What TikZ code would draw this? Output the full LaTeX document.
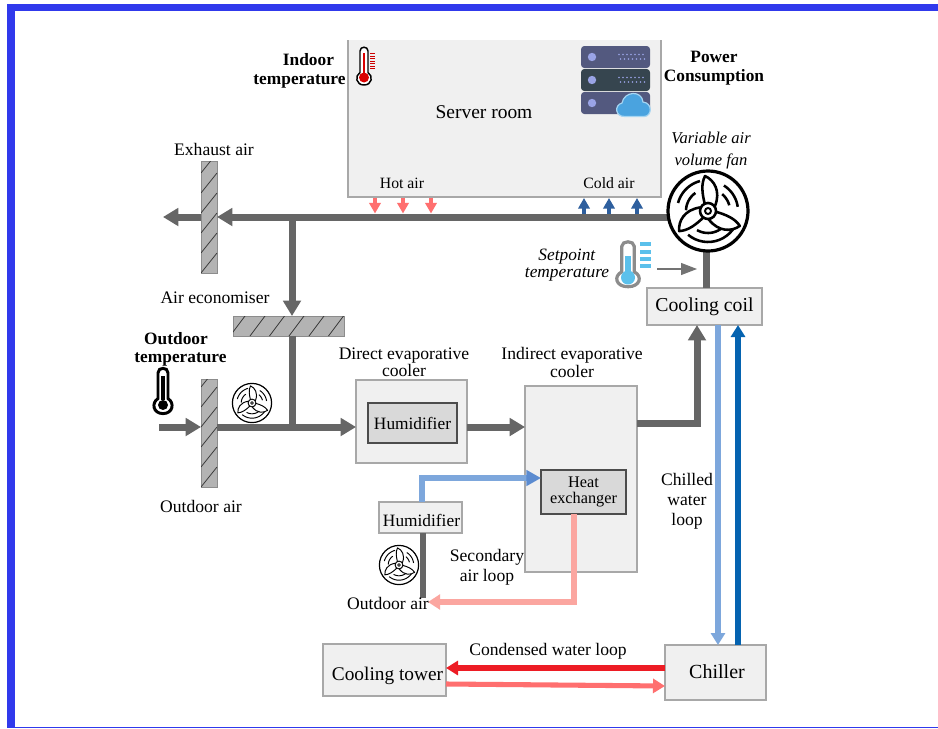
\documentclass[tikz,border=0pt]{standalone}
\usepackage{fontspec}
\setmainfont{Liberation Serif}
\usetikzlibrary{arrows.meta}
\definecolor{duct}{HTML}{666666}
\definecolor{boxfill}{HTML}{F0F0F0}
\definecolor{boxline}{HTML}{A8A8A8}
\definecolor{innerfill}{HTML}{D9D9D9}
\definecolor{damper}{HTML}{B3B3B3}
\definecolor{frameblue}{HTML}{3039EC}
\definecolor{lightwater}{HTML}{7DA7DC}
\definecolor{bluehead}{HTML}{5B8BD0}
\definecolor{darkwater}{HTML}{0563B0}
\definecolor{pinkair}{HTML}{FBA6A0}
\definecolor{redwater}{HTML}{ED1C24}
\definecolor{salmon}{HTML}{FF6F6F}
\definecolor{coldair}{HTML}{2E5F9E}
\definecolor{srvA}{HTML}{53597F}
\definecolor{srvB}{HTML}{36454F}
\definecolor{srvDot}{HTML}{9AA4E6}
\definecolor{cloud}{HTML}{4AA3DF}
\definecolor{cloudedge}{HTML}{A5D5F2}
\definecolor{sky}{HTML}{5BC0EB}
\tikzset{
 px/.style={x=0.75pt,y=-0.75pt},
 pipe/.style={draw=duct,line width=5.25pt},
 pipearrow/.style={pipe,-{Triangle[length=11.5pt,width=13pt]}},
 waterarrow/.style={line width=3.8pt,-{Triangle[length=9pt,width=10.5pt]}},
 smallarrow/.style={line width=2.6pt,-{Triangle[length=8pt,width=8.5pt]}},
 outerbox/.style={draw=boxline,fill=boxfill,line width=1pt,inner sep=0pt,outer sep=0pt},
 innerbox/.style={draw=black!70,fill=innerfill,line width=0.8pt,inner sep=0pt,outer sep=0pt},
 damperbox/.style={draw=black!45,fill=damper,line width=0.6pt,inner sep=0pt,outer sep=0pt},
 hatch/.style={draw=black!80,line width=0.55pt},
 lab/.style={align=center,inner sep=0pt,outer sep=0pt},
}
\newcommand{\lbl}[5]{\node[lab,font=\fontsize{#4}{#5}\selectfont] at (#1) {#2#3};}
\newcommand{\bx}[7]{\node[#6,minimum width={(#4-#2)*0.75pt},minimum height={(#5-#3)*0.75pt},align=center] (#1) at ({(#2+#4)/2},{(#3+#5)/2}) {#7};}
\newcommand{\fanarc}[4]{\draw[line width=#4] plot[domain=#2:#3,samples=14,smooth] ({#1*cos(\x)},{#1*sin(\x)});}
\newcommand{\fanicon}[5]{%
 \begin{scope}[shift={(#2,#3)},scale=#4]
  \node[circle,inner sep=0pt,minimum size={82*0.75pt*#4},outer sep=0pt] (#1) at (0,0) {};
  \fill[white] (0,0) circle[radius=41];
  \draw[line width=#5] (0,0) circle[radius=40];
  \fanarc{30}{-58}{-8}{#5*0.8}
  \fanarc{22}{-50}{-15}{#5*0.8}
  \fanarc{31}{-165}{-105}{#5*0.8}
  \fanarc{22}{-178}{-125}{#5*0.8}
  \fanarc{31}{30}{130}{#5*0.8}
  \fanarc{22}{40}{120}{#5*0.8}
  \foreach \r in {0,120,240}{
   \begin{scope}[rotate=\r]
    \draw[line width=#5*0.8,fill=white,line join=round] (-3,-6) .. controls (-6,-18) and (-7,-27) .. (-3,-35) .. controls (6,-31) and (13,-20) .. (7,-5) -- cycle;
   \end{scope}
  }
  \draw[line width=#5*0.8,fill=white] (0,0) circle[radius=8];
  \draw[line width=#5*0.6,fill=white] (0,0) circle[radius=3];
 \end{scope}}
\newcommand{\thermoshape}{(-4,25.5) -- (-4,4) .. controls (-4,-1) and (4,-1) .. (4,4) -- (4,25.5) .. controls (9.5,29) and (8,38) .. (0,38) .. controls (-8,38) and (-9.5,29) .. (-4,25.5) -- cycle}
\begin{document}
\begin{tikzpicture}[px]
\useasboundingbox (0,0) rectangle (938,728);
\fill[white] (0,0) rectangle (938,728);
% frame
\fill[frameblue] (7,4) rectangle (938,11);
\fill[frameblue] (7,4) rectangle (15,728);
\fill[frameblue] (7,727) rectangle (938,728);

% server room
\fill[boxfill] (348,40) rectangle (661,197);
\draw[draw=boxline,line width=1pt] (348,40) -- (348,197) -- (661,197) -- (661,40);
\lbl{484,112.5}{Server room}{}{14.6pt}{17pt}
\lbl{402,183}{Hot air}{}{11.8pt}{14pt}
\lbl{609,183}{Cold air}{}{11.8pt}{14pt}

% dampers
\bx{exh}{201}{161}{217}{273}{damperbox}{}
\bx{eco}{233}{316}{344}{336}{damperbox}{}
\bx{oad}{201}{379}{217}{487}{damperbox}{}
\begin{scope}
 \clip (201,161) rectangle (217,273);
 \foreach \y in {153,173,193,213,233,253}{\draw[hatch] (201,\y+20) -- (217,\y);}
\end{scope}
\begin{scope}
 \clip (233,316) rectangle (344,336);
 \foreach \xx in {230,250,269.5,289,309,328.5}{\draw[hatch] (\xx,336) -- (\xx+15,316);}
\end{scope}
\begin{scope}
 \clip (201,379) rectangle (217,487);
 \foreach \y in {367,387,407,427,447,467}{\draw[hatch] (201,\y+20) -- (217,\y);}
\end{scope}

% boxes
\bx{dec}{356}{380}{467}{463}{outerbox}{}
\bx{hum}{368}{403}{457}{443}{innerbox,font=\fontsize{13pt}{15pt}\selectfont}{Humidifier}
\bx{iec}{525}{386}{637}{572}{outerbox}{}
\bx{hx}{541}{470}{626}{514}{innerbox,font=\fontsize{12.2pt}{11.6pt}\selectfont}{Heat\\exchanger}
\bx{hum2}{379}{502}{462}{533}{outerbox}{}
\bx{coil}{647}{288}{762}{325}{outerbox,font=\fontsize{14.8pt}{17pt}\selectfont}{Cooling coil}
\bx{tower}{323}{644}{446}{696}{outerbox}{}
\bx{chiller}{665}{645}{766}{700}{outerbox}{}
\lbl{421.5,520}{Humidifier}{}{13pt}{15pt}
\lbl{387.5,676}{Cooling tower}{}{14.5pt}{17pt}
\lbl{717,672}{Chiller}{}{15pt}{17pt}

% named connection points
\coordinate (fanW) at (668,217);
\coordinate (exhOut) at (163,217);
\coordinate (t1) at (292,217);
\coordinate (j1) at (292,427);
\coordinate (inlet) at (159,427);
\coordinate (secOut) at (428,602);
\coordinate (oaPipe) at (422.5,598);
\coordinate (setS) at (657,269);
\coordinate (setE) at (697,269);

% air pipes
\draw[pipearrow] (fanW) -- (exh.east|-fanW);
\draw[pipearrow] (exh.west|-fanW) -- (exhOut);
\draw[pipearrow] (t1) -- (eco.north-|t1);
\draw[pipe] (eco.south-|t1) -- (j1);
\draw[pipearrow] (inlet) -- (oad.west|-inlet);
\draw[pipearrow] (oad.east|-inlet) -- (dec.west|-inlet);
\draw[pipearrow] (dec.east|-inlet) -- (iec.west|-inlet);
\draw[pipearrow] (iec.east|-0,423) -| (coil.south-|697,0);
\draw[pipe] (706,250) -- (coil.north-|706,0);
\draw[draw=duct,line width=4.5pt] (hum2.south-|oaPipe) -- (oaPipe);
\draw[draw=lightwater,line width=4.2pt,-{Triangle[length=11pt,width=11.5pt,color=bluehead]}] (hum2.north-|422,0) |- (hx.west|-0,478);
\draw[draw=pinkair,line width=4pt,-{Triangle[length=9pt,width=11pt]}] (hx.south-|574,0) |- (secOut);
\draw[draw=black!55,line width=0.8pt,-{Triangle[length=12pt,width=9pt]}] (setS) -- (setE);

% water
\draw[draw=lightwater,waterarrow] (coil.south-|718,0) -- (chiller.north-|718,0);
\draw[draw=darkwater,waterarrow] (chiller.north-|738,0) -- (coil.south-|738,0);
\draw[draw=redwater,waterarrow] (chiller.west|-0,668) -- (tower.east|-0,668);
\draw[draw=salmon,waterarrow] (tower.east|-0,684) -- (chiller.west|-0,686);

% hot / cold arrows
\foreach \xx/\n in {375/a,403/b,431/c}{
 \coordinate (h\n s) at (\xx,197.5);
 \coordinate (h\n e) at (\xx,213.5);
 \draw[draw=salmon,smallarrow] (h\n s) -- (h\n e);}
\foreach \xx/\n in {584/a,609/b,637/c}{
 \coordinate (c\n s) at (\xx,213.5);
 \coordinate (c\n e) at (\xx,198);
 \draw[draw=coldair,smallarrow] (c\n s) -- (c\n e);}

% fans
\fanicon{fanbig}{708}{211}{1}{2.4pt}
\fanicon{fanoa}{252}{403}{0.49}{0.9pt}
\fanicon{fansec}{399}{565}{0.49}{0.9pt}

% thermometers
\begin{scope}[shift={(364,47)}]
 \draw[line width=1.1pt,fill=white] \thermoshape;
 \draw[red!85!black,line width=2.2pt] (0,6) -- (0,28);
 \fill[red!85!black] (0,30.5) circle[radius=5];
 \foreach \y in {6.5,9,11.5,14,16.5,19,21.5}{\draw[red!80!black,line width=0.7pt] (6,\y) -- (11,\y);}
\end{scope}
\begin{scope}[shift={(628,241.5)},xscale=1.55,yscale=1.19]
 \draw[draw=black!45,line width=2.4pt,fill=white] \thermoshape;
\end{scope}
\draw[sky,line width=3.8pt] (628,256) -- (628,276);
\fill[sky] (628,277.5) circle[radius=7];
\foreach \y in {244,252,259,266}{\draw[sky,line width=2.8pt] (640,\y) -- (651,\y);}
\begin{scope}[shift={(163,368)},xscale=1.25,yscale=1.2]
 \draw[line width=2.2pt,fill=white] \thermoshape;
\end{scope}
\draw[line width=2.4pt] (163,376) -- (163,400);
\fill (163,405) circle[radius=5];

% server icon
\fill[srvA,rounded corners=2.5pt] (581,46) rectangle (650,68);
\fill[srvB,rounded corners=2.5pt] (581,69) rectangle (650,91);
\fill[srvA,rounded corners=2.5pt] (581,92) rectangle (650,114);
\foreach \y in {57,80,103}{\fill[srvDot] (592,\y) circle[radius=4.2];}
\foreach \y in {57,80}{
 \foreach \xx in {619,623,627,631,635,639,643}{\fill[srvDot] (\xx,\y-2.5) circle[radius=0.85];\fill[srvDot] (\xx+1.5,\y+2) circle[radius=0.85];}}
\filldraw[fill=cloud,draw=cloudedge,line width=0.9pt] (625,116.5) .. controls (615,117) and (614,105) .. (622,103) .. controls (624,91) and (642,90) .. (643,102) .. controls (653,103) and (652,116.5) .. (644,116.5) -- cycle;

% labels
\lbl{299.5,71}{\hspace*{13.5pt}\textbf{Indoor}\\}{\textbf{temperature}}{13pt}{14.25pt}
\lbl{714,68.5}{\textbf{Power}\\}{\textbf{Consumption}}{13pt}{14.4pt}
\lbl{711,151}{\textit{Variable air}\\}{\textit{volume fan}}{12.4pt}{16.5pt}
\lbl{567,265}{\textit{Setpoint}\\}{\textit{temperature}}{13pt}{13pt}
\lbl{214,149}{Exhaust air}{}{13.2pt}{15pt}
\lbl{215,297.5}{Air economiser}{}{13.2pt}{15pt}
\lbl{180.5,349.5}{\textbf{Outdoor}\hspace*{6.75pt}\\}{\textbf{temperature}}{13pt}{13.1pt}
\lbl{201,506}{Outdoor air}{}{13.2pt}{15pt}
\lbl{404,362}{Direct evaporative\\}{cooler}{13.2pt}{13pt}
\lbl{572,362.5}{Indirect evaporative\\}{cooler}{13.2pt}{13pt}
\lbl{687,501}{Chilled\\water\\}{loop}{13.2pt}{15pt}
\lbl{487,567}{Secondary\\}{air loop}{13.2pt}{15pt}
\lbl{388,603}{Outdoor air}{}{13.2pt}{15pt}
\lbl{548,651}{Condensed water loop}{}{13.2pt}{15pt}
\end{tikzpicture}
\end{document}
